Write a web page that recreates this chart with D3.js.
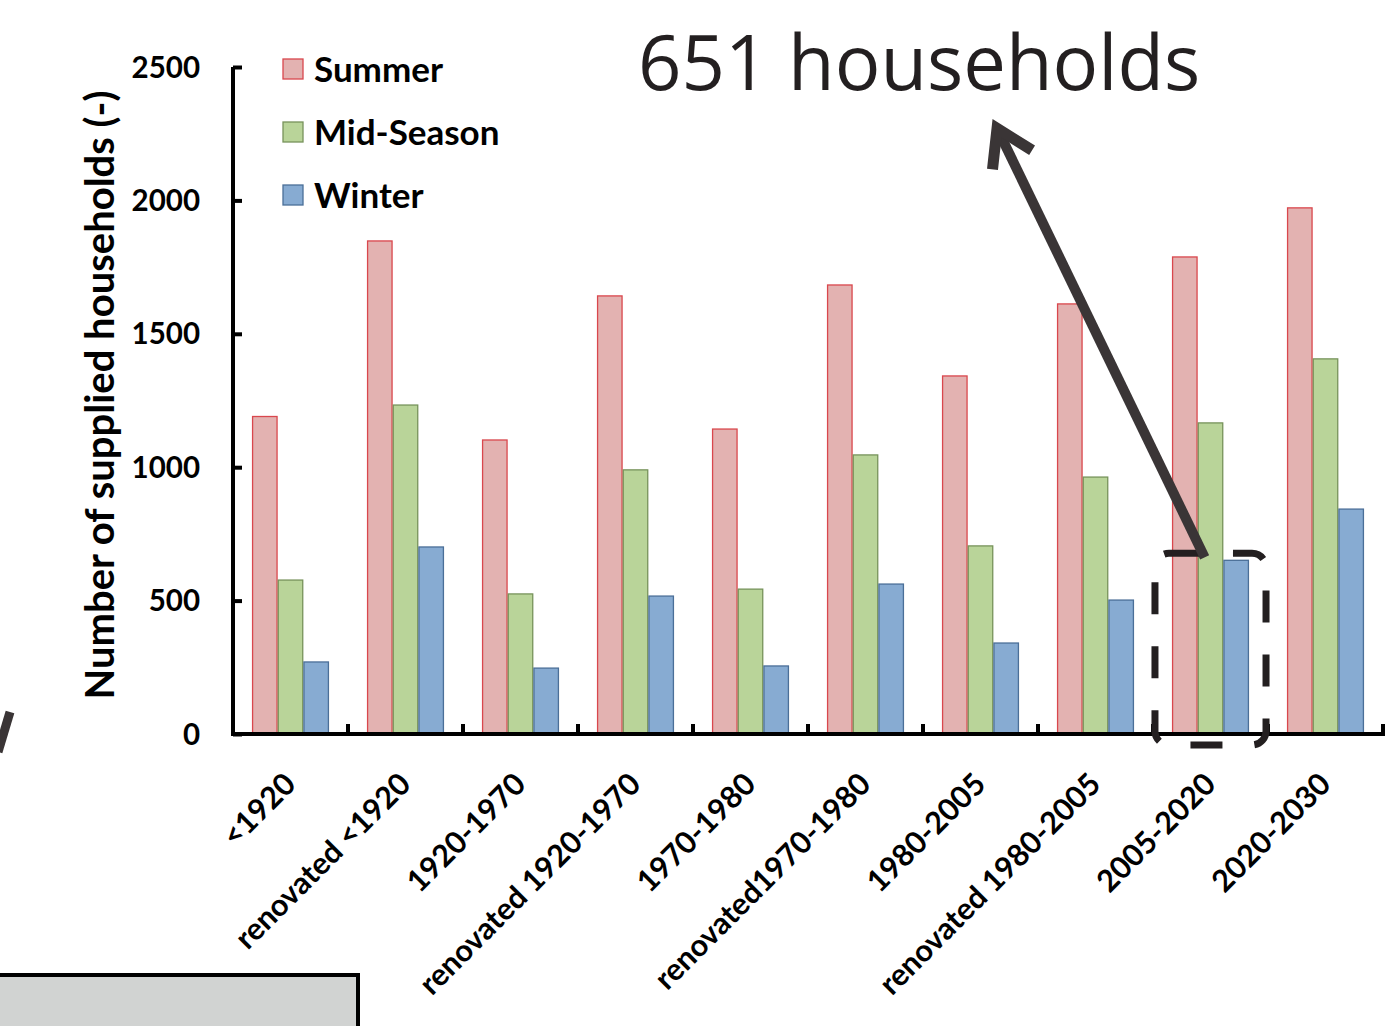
<!DOCTYPE html>
<html>
<head>
<meta charset="utf-8">
<script src="https://cdn.jsdelivr.net/npm/d3@7"></script>
<style>
  html, body { margin: 0; padding: 0; background: #ffffff; }
  svg { display: block; }
</style>
</head>
<body>
<svg id="chart" width="1398" height="1026"></svg>
<script>
// Building age classes
const categories = [
  "<1920", "renovated <1920", "1920-1970", "renovated 1920-1970", "1970-1980",
  "renovated1970-1980", "1980-2005", "renovated 1980-2005", "2005-2020", "2020-2030"
];
// Supplied households per season
const summer    = [1190, 1848, 1102, 1642, 1143, 1683, 1342, 1612, 1788, 1972];
const midSeason = [577, 1233, 525, 990, 543, 1046, 705, 963, 1166, 1406];
const winter    = [270, 701, 247, 517, 255, 562, 341, 502, 651, 843];
const seriesNames = ["Summer", "Mid-Season", "Winter"];
const yTicks = [0, 500, 1000, 1500, 2000, 2500];

const series = [
  { name: seriesNames[0], values: summer,    fill: "#e3b2b1", stroke: "#d9474d" },
  { name: seriesNames[1], values: midSeason, fill: "#b9d499", stroke: "#77935b" },
  { name: seriesNames[2], values: winter,    fill: "#87abd2", stroke: "#4b6f98" }
];

const svg = d3.select("#chart");
const plotL = 233, plotR = 1383, plotT = 67, plotB = 734;

const x = d3.scaleBand().domain(categories).range([plotL, plotR])
  .paddingInner(0.33).paddingOuter(0.165);
const xs = d3.scaleBand().domain(seriesNames).range([0, x.bandwidth()]);
const y = d3.scaleLinear().domain([0, 2500]).range([plotB, plotT]);

const labelFont = "Lato, 'Open Sans', sans-serif";

// bars
const groups = svg.append("g").selectAll("g")
  .data(categories).join("g")
  .attr("transform", d => `translate(${x(d)},0)`);

series.forEach(s => {
  groups.append("rect")
    .attr("x", d => xs(s.name) + 0.6)
    .attr("y", (d, i) => y(s.values[i]))
    .attr("width", xs.bandwidth() - 1.2)
    .attr("height", (d, i) => y(0) - y(s.values[i]))
    .attr("fill", s.fill)
    .attr("stroke", s.stroke)
    .attr("stroke-width", 1.3);
});

// y axis with inward ticks
const yAxis = svg.append("g")
  .attr("transform", `translate(${plotL},0)`)
  .call(d3.axisRight(y).tickValues(yTicks).tickSize(9).tickFormat(""));
yAxis.select(".domain").attr("stroke", "#000").attr("stroke-width", 4)
  .attr("d", `M0,${plotT}V${plotB}`);
yAxis.selectAll(".tick line").attr("stroke", "#000").attr("stroke-width", 4);

svg.append("g").selectAll("text")
  .data(yTicks).join("text")
  .attr("x", 200).attr("y", d => y(d))
  .attr("dy", "0.36em")
  .attr("text-anchor", "end")
  .attr("font-family", labelFont).attr("font-weight", 700).attr("font-size", 29.5)
  .attr("fill", "#000")
  .text(d => d);

// x axis with inward ticks between groups
const boundaries = categories.map((c, i) => plotL + x.step() * (i + 1));
svg.append("line")
  .attr("x1", plotL - 2).attr("x2", plotR + 2)
  .attr("y1", plotB).attr("y2", plotB)
  .attr("stroke", "#000").attr("stroke-width", 4);
svg.append("g").selectAll("line")
  .data(boundaries).join("line")
  .attr("x1", d => d).attr("x2", d => d)
  .attr("y1", plotB).attr("y2", plotB - 10)
  .attr("stroke", "#000").attr("stroke-width", 4);

// rotated category labels
svg.append("g").selectAll("text")
  .data(categories).join("text")
  .attr("transform", d => `translate(${x(d) + x.bandwidth() / 2 + 7},${plotB + 52}) rotate(-45)`)
  .attr("text-anchor", "end")
  .attr("font-family", labelFont).attr("font-weight", 700).attr("font-size", 30.5)
  .attr("fill", "#000")
  .text(d => d);

// y axis title
svg.append("text")
  .attr("transform", `translate(114,${395}) rotate(-90)`)
  .attr("text-anchor", "middle")
  .attr("font-family", labelFont).attr("font-weight", 700).attr("font-size", 40)
  .attr("fill", "#000")
  .text("Number of supplied households (-)");

// legend
const legend = svg.append("g").selectAll("g")
  .data(series).join("g")
  .attr("transform", (d, i) => `translate(283,${59 + i * 63})`);
legend.append("rect")
  .attr("width", 20).attr("height", 20)
  .attr("fill", d => d.fill).attr("stroke", d => d.stroke).attr("stroke-width", 1.3);
legend.append("text")
  .attr("x", 31).attr("y", 10).attr("dy", "0.36em")
  .attr("font-family", labelFont).attr("font-weight", 700).attr("font-size", 35)
  .attr("fill", "#000")
  .text(d => d.name);

// highlighted group: dashed frame around 2005-2020
const hi = categories.indexOf("2005-2020");
const hx0 = x(categories[hi]) - 17, hx1 = x(categories[hi]) + x.bandwidth() + 17;
const hy0 = y(winter[hi]) - 7, hy1 = plotB + 11;
svg.append("rect")
  .attr("x", hx0).attr("y", hy0)
  .attr("width", hx1 - hx0).attr("height", hy1 - hy0)
  .attr("rx", 14)
  .attr("fill", "none").attr("stroke", "#231f20").attr("stroke-width", 7)
  .attr("stroke-dasharray", "32 32").attr("stroke-dashoffset", 0);

// callout arrow
const tail = [x(categories[hi]) + xs("Mid-Season") + 7, hy0 + 4];
const tip = [994, 122];
const dx = tip[0] - tail[0], dy = tip[1] - tail[1];
const len = Math.hypot(dx, dy);
const u = [dx / len, dy / len], n = [-u[1], u[0]];
svg.append("line")
  .attr("x1", tail[0]).attr("y1", tail[1])
  .attr("x2", tip[0] - u[0] * 8).attr("y2", tip[1] - u[1] * 8)
  .attr("stroke", "#3a3536").attr("stroke-width", 10);
const wing = s => [tip[0] - u[0] * 42 + s * n[0] * 22, tip[1] - u[1] * 42 + s * n[1] * 22];
const apex = [tip[0] - u[0] * 7, tip[1] - u[1] * 7];
svg.append("polyline")
  .attr("points", [wing(1), apex, wing(-1)].map(p => p.join(",")).join(" "))
  .attr("fill", "none").attr("stroke", "#3a3536").attr("stroke-width", 11)
  .attr("stroke-linejoin", "miter").attr("stroke-miterlimit", 10);

svg.append("text")
  .attr("x", 638).attr("y", 90)
  .attr("font-family", "'Open Sans', 'Noto Sans', sans-serif").attr("font-size", 76)
  .attr("fill", "#231f20")
  .text(`${winter[hi]} households`);

// neighbouring panel elements at the edges
svg.append("line")
  .attr("x1", 10).attr("y1", 712).attr("x2", -2).attr("y2", 752)
  .attr("stroke", "#3a3536").attr("stroke-width", 9);
svg.append("rect")
  .attr("x", -10).attr("y", 975).attr("width", 368).attr("height", 80)
  .attr("fill", "#d1d3d2").attr("stroke", "#000").attr("stroke-width", 4);
</script>
</body>
</html>
